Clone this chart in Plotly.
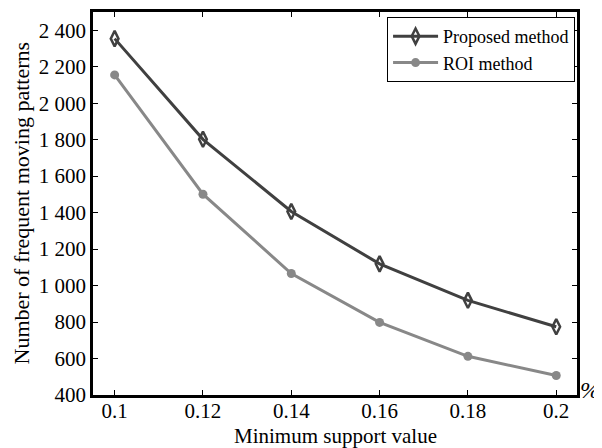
import plotly.graph_objects as go

support = [0.1, 0.12, 0.14, 0.16, 0.18, 0.2]
proposed = [2354, 1802, 1406, 1119, 919, 774]
roi = [2155, 1501, 1066, 798, 612, 507]
x_ticks = [0.1, 0.12, 0.14, 0.16, 0.18, 0.2]
x_tick_labels = ["0.1", "0.12", "0.14", "0.16", "0.18", "0.2"]
y_ticks = [400, 600, 800, 1000, 1200, 1400, 1600, 1800, 2000, 2200, 2400]

font = "Liberation Serif, Times New Roman, serif"

fig = go.Figure()
fig.add_trace(go.Scatter(
    x=support, y=proposed, name="Proposed method", mode="lines+markers",
    line=dict(color="#404040", width=3),
    marker=dict(symbol="diamond-tall-open", size=11, color="#404040",
                line=dict(width=2.5, color="#404040")),
))
fig.add_trace(go.Scatter(
    x=support, y=roi, name="ROI method", mode="lines+markers",
    line=dict(color="#888888", width=3),
    marker=dict(symbol="circle", size=9, color="#888888"),
))

axis_common = dict(
    showline=True, linecolor="black", linewidth=2.5, mirror="ticks",
    ticks="inside", ticklen=5, tickcolor="black", tickwidth=1,
    showgrid=False, zeroline=False, automargin=False,
    tickfont=dict(family=font, size=21, color="black"),
)

# page body adds an 8px offset; figure is sized to compensate
fig.update_layout(
    width=594, height=440,
    margin=dict(l=85, r=25, t=4, b=53),
    paper_bgcolor="white", plot_bgcolor="white",
    separators=". ",
    font=dict(family=font, color="black"),
    showlegend=True,
    legend=dict(
        x=0.996, y=0.987, xanchor="right", yanchor="top",
        bordercolor="black", borderwidth=1, bgcolor="white",
        font=dict(family=font, size=18, color="black"),
        tracegroupgap=0, itemwidth=45,
    ),
    xaxis=dict(
        **axis_common, range=[0.0951, 0.2047],
        tickvals=x_ticks, ticktext=x_tick_labels, ticklabelstandoff=-5,
    ),
    yaxis=dict(
        **axis_common, range=[400, 2500],
        tickvals=y_ticks, tickformat=",d", ticklabelstandoff=0,
    ),
)

fig.add_annotation(
    text="Minimum support value", xref="paper", yref="paper", x=0.5, y=0,
    xanchor="center", yanchor="middle", yshift=-41, showarrow=False,
    font=dict(family=font, size=21, color="black"),
)
fig.add_annotation(
    text="Number of frequent moving patterns", xref="paper", yref="paper", x=0, y=0.5,
    xanchor="center", yanchor="middle", xshift=-72, textangle=-90, showarrow=False,
    font=dict(family=font, size=22, color="black"),
)
fig.add_annotation(
    text="<i>%</i>", xref="paper", yref="paper", x=1, y=0,
    xanchor="center", yanchor="middle", xshift=13, yshift=5, showarrow=False,
    font=dict(family=font, size=24, color="black"),
)

fig.write_html("out.html")
